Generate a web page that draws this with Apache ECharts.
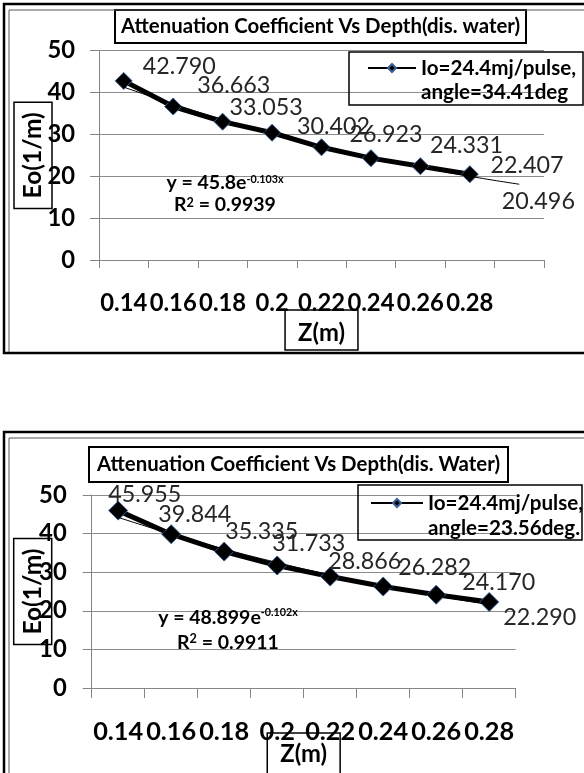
<!DOCTYPE html>
<html><head><meta charset="utf-8">
<script src="https://cdn.jsdelivr.net/npm/echarts@6/dist/echarts.min.js"></script>
<style>html,body{margin:0;padding:0;background:#fff}#c{width:584px;height:773px}</style>
</head><body><div id="c"></div>
<script>
// ---- data ----
const depth1 = ['0.14','0.16','0.18','0.2','0.22','0.24','0.26','0.28',''];
const eo1 = [42.790, 36.663, 33.053, 30.402, 26.923, 24.331, 22.407, 20.496];
const trend1 = [41.3, 37.3, 33.6, 30.3, 27.3, 24.6, 22.2, 20.0, 18.1];
const depth2 = ['0.14','0.16','0.18','0.2','0.22','0.24','0.26','0.28'];
const eo2 = [45.955, 39.844, 35.335, 31.733, 28.866, 26.282, 24.170, 22.290];
const trend2 = [44.2, 39.9, 36.0, 32.5, 29.3, 26.5, 23.9, 21.6];
const yTicks = [0, 10, 20, 30, 40, 50];
const title1 = 'Attenuation Coefficient Vs Depth(dis. water)';
const title2 = 'Attenuation Coefficient Vs Depth(dis. Water)';
const name1 = 'Io=24.4mj/pulse,\nangle=34.41deg';
const name2 = 'Io=24.4mj/pulse,\nangle=23.56deg.';
const eq1 = ['y = 45.8e', '-0.103x', '0.9939'];
const eq2 = ['y = 48.899e', '-0.102x', '0.9911'];

// ---- label placement (layout only) ----
const labelShift1 = [[19,-14],[24,-21],[7,-14],[25,-6],[28,-13],[59,-13],[70,-1],[32,27]];
const labelShift2 = [[-10,-16],[-13,-20],[1,-20],[-5,-22],[-2,-15],[15,-19],[26,-12],[14,16]];

const FONT = 'Lato';
const mctx = document.createElement('canvas').getContext('2d');
function fit(text, weight, target) {
  mctx.font = weight + ' 100px ' + FONT;
  return +(100 * target / mctx.measureText(text).width).toFixed(1);
}
const titleSize = fit(title1, 'bold', 400);
const legSize = fit('Io=24.4mj/pulse,', 'bold', 155);
const lblSize = fit('22.407', 'normal', 73);
const axSize1 = fit('0.14', 'bold', 47);
const axSize2 = fit('0.14', 'bold', 50);
const xNameSize = fit('Z(m)', 'bold', 47);
const yNameSize = fit('Eo(1/m)', 'bold', 86);
const eqSize = fit('y = 45.8e', 'bold', 80);

const chart = echarts.init(document.getElementById('c'), null, {renderer: 'canvas'});

function yAxisCfg(gridIndex, gap, margin, axSize) {
  return {
    type: 'value', gridIndex, min: yTicks[0], max: yTicks[yTicks.length - 1], interval: yTicks[1] - yTicks[0],
    axisLine: {show: true, lineStyle: {color: '#868686', width: 1}},
    axisTick: {show: true, length: 9, lineStyle: {color: '#868686'}},
    splitLine: {show: true, lineStyle: {color: '#8c8c8c', width: 1}},
    axisLabel: {margin, color: '#000', fontFamily: FONT, fontWeight: 'bold', fontSize: axSize},
    name: 'Eo(1/m)', nameLocation: 'middle', nameRotate: 90, nameGap: gap, nameMoveOverlap: false,
    nameTextStyle: {fontFamily: FONT, fontWeight: 'bold', fontSize: yNameSize, color: '#000', lineHeight: 26,
      borderColor: '#000', borderWidth: 1.5, padding: [6, 10, 6, 10]}
  };
}
function xAxisCfg(gridIndex, cats, gap, tickLen, pad, axSize) {
  return {
    type: 'category', gridIndex, data: cats, boundaryGap: true,
    axisLine: {show: true, lineStyle: {color: '#868686', width: 1}},
    axisTick: {show: true, length: tickLen, interval: 0, lineStyle: {color: '#868686'}},
    axisLabel: {interval: 0, margin: 31, color: '#000', fontFamily: FONT, fontWeight: 'bold', fontSize: axSize},
    name: 'Z(m)', nameLocation: 'middle', nameGap: gap, nameMoveOverlap: false,
    nameTextStyle: {fontFamily: FONT, fontWeight: 'bold', fontSize: xNameSize, color: '#000', lineHeight: 24,
      borderColor: '#000', borderWidth: 1.5, padding: pad}
  };
}
function mainSeries(name, idx, values, shifts, symSize) {
  return {
    name, type: 'line', xAxisIndex: idx, yAxisIndex: idx, z: 2,
    data: values.map((v, i) => ({value: v, label: {offset: shifts[i]}})),
    symbol: 'diamond', symbolSize: symSize,
    lineStyle: {color: '#000', width: 5},
    itemStyle: {color: '#000', borderColor: '#3b5e96', borderWidth: 1},
    label: {show: true, position: 'inside', align: 'left', verticalAlign: 'middle',
      formatter: p => p.value.toFixed(3), fontFamily: FONT, fontSize: lblSize, color: '#262626'},
    emphasis: {disabled: true}, animation: false
  };
}
function trendSeries(idx, values) {
  return {
    name: 'trend' + idx, type: 'line', xAxisIndex: idx, yAxisIndex: idx, z: 3,
    data: values, smooth: true, symbol: 'none', silent: true,
    lineStyle: {color: '#000', width: 1}, emphasis: {disabled: true}, animation: false
  };
}
function eqText(x, y, eq, lh) {
  return {
    type: 'text', x, y, z: 10,
    style: {
      text: '{b|' + eq[0] + '}{s|' + eq[1] + '}\n{b|R}{s2|2}{b| = ' + eq[2] + '}',
      align: 'center', verticalAlign: 'middle',
      rich: {
        b: {fontFamily: FONT, fontWeight: 'bold', fontSize: eqSize, lineHeight: lh, fill: '#000'},
        s: {fontFamily: FONT, fontWeight: 'bold', fontSize: eqSize * 0.55, lineHeight: lh, fill: '#000', verticalAlign: 'top', padding: [2, 0, 0, 0]},
        s2: {fontFamily: FONT, fontWeight: 'bold', fontSize: eqSize * 0.65, lineHeight: lh, fill: '#000', verticalAlign: 'top', padding: [2, 0, 0, 0]}
      }
    }
  };
}
function legendCfg(name, left, top, iw, lh) {
  return {
    data: [name], left, top, padding: 0, itemWidth: iw, itemHeight: 10, selectedMode: false,
    formatter: n => '\n' + n,
    lineStyle: {width: 2},
    textStyle: {fontFamily: FONT, fontWeight: 'bold', fontSize: legSize, color: '#000', lineHeight: lh}
  };
}

const option = {
  backgroundColor: '#fff',
  animation: false,
  title: [
    {text: title1, left: 115, top: 10, padding: [5, 6], borderColor: '#000', borderWidth: 2,
      textStyle: {fontFamily: FONT, fontWeight: 'bold', fontSize: titleSize, color: '#000', lineHeight: 23}},
    {text: title2, left: 89, top: 447, padding: [6, 8], borderColor: '#000', borderWidth: 2,
      textStyle: {fontFamily: FONT, fontWeight: 'bold', fontSize: titleSize, color: '#000', lineHeight: 23}}
  ],
  legend: [
    legendCfg(name1, 367, 32, 48, 24),
    legendCfg(name2, 370, 465.5, 52, 25)
  ],
  grid: [
    {left: 99, top: 50.7, width: 445, height: 209.3, outerBoundsMode: 'none'},
    {left: 91.7, top: 495, width: 424, height: 193, outerBoundsMode: 'none'}
  ],
  xAxis: [xAxisCfg(0, depth1, 50, 8, [11, 13, 5, 13], axSize1), xAxisCfg(1, depth2, 45, 10, [9, 13, 9, 13], axSize2)],
  yAxis: [yAxisCfg(0, 47, 24, axSize1), yAxisCfg(1, 40, 25, axSize1)],
  series: [
    mainSeries(name1, 0, eo1, labelShift1, 17),
    trendSeries(0, trend1),
    mainSeries(name2, 1, eo2, labelShift2, 19),
    trendSeries(1, trend2)
  ],
  graphic: [
    {type: 'rect', z: 20, silent: true, shape: {x: 4, y: 4, width: 640, height: 349}, style: {fill: 'none', stroke: '#000', lineWidth: 2.5}},
    {type: 'polyline', z: 20, silent: true, shape: {points: [[9, 352], [9, 10], [640, 10]]}, style: {fill: 'none', stroke: '#555', lineWidth: 1}},
    {type: 'rect', z: 5, silent: true, shape: {x: 349, y: 52, width: 234, height: 53}, style: {fill: 'none', stroke: '#000', lineWidth: 1.5}},
    eqText(225, 194, eq1, 22),
    {type: 'rect', z: 20, silent: true, shape: {x: 4, y: 432, width: 640, height: 420}, style: {fill: 'none', stroke: '#000', lineWidth: 2.5}},
    {type: 'polyline', z: 20, silent: true, shape: {points: [[9, 800], [9, 438], [640, 438]]}, style: {fill: 'none', stroke: '#555', lineWidth: 1}},
    {type: 'rect', z: 5, silent: true, shape: {x: 358, y: 485, width: 224, height: 55}, style: {fill: 'none', stroke: '#000', lineWidth: 1.5}},
    eqText(228, 630.5, eq2, 25)
  ]
};
chart.setOption(option);
</script>
</body></html>
